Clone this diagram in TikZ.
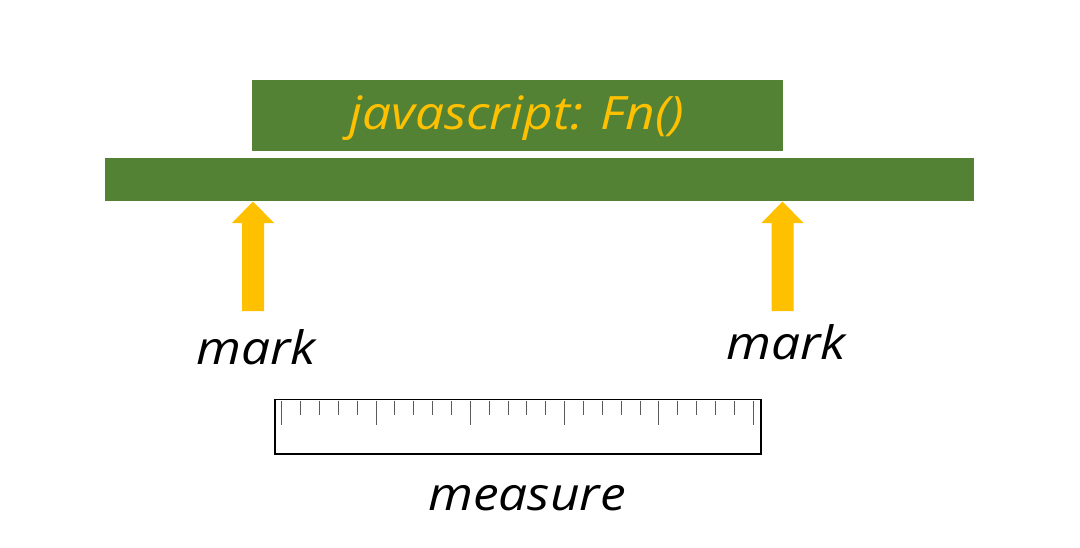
\documentclass[tikz,border=0pt]{standalone}
\usepackage{fontspec}
\newfontfamily\hand{Open Sans}[FakeStretch=1.12]
\definecolor{barGreen}{RGB}{84,130,53}
\definecolor{arrowGold}{RGB}{255,192,0}
\definecolor{tickGray}{RGB}{90,90,90}
\begin{document}
\begin{tikzpicture}[x=1pt,y=-1pt,
  greenbox/.style={fill=barGreen, draw=none, inner sep=0pt},
  handtext/.style={font=\hand\itshape\fontsize{46}{50}\selectfont, inner sep=0pt},
  upblock/.style={fill=arrowGold, draw=none},
  rulerbox/.style={draw=black, line width=1.8pt, fill=white},
  tick/.style={draw=tickGray, line width=1pt}]
\useasboundingbox[fill=white] (0,0) rectangle (1080,547);
% top box and bar
\node[greenbox, minimum width=531pt, minimum height=71pt] (fnbox) at (517.5,115.5) {};
\node[handtext, text=arrowGold, font=\hand\itshape\fontsize{46}{50}\selectfont] (fntext) at (517,118) {javascript: Fn()};
\node[greenbox, minimum width=869pt, minimum height=43pt] (bar) at (539.5,179.5) {};
% arrow coordinates
\coordinate (tipL) at (253,201.5);
\coordinate (tipR) at (782.5,201.5);
\foreach \t in {tipL,tipR}{
  \fill[upblock] (\t) -- ++(21,21.5) -- ++(-10,0) -- ++(0,88) -- ++(-22,0) -- ++(0,-88) -- ++(-10,0) -- cycle;
}
% labels
\node[handtext] (markL) at (256,347) {mark};
\node[handtext] (markR) at (786,342) {mark};
% ruler
\node[rulerbox, minimum width=486pt, minimum height=54.5pt, inner sep=0pt] (ruler) at (518,426.75) {};
\foreach \i in {0,...,25}{
  \pgfmathsetmacro{\xx}{281.7+\i*18.86}
  \pgfmathparse{mod(\i,5)==0 ? 425 : 415}
  \edef\yy{\pgfmathresult}
  \draw[tick] (\xx,400.5) -- (\xx,\yy);
}
\node[handtext] (measure) at (527,498) {measure};
\end{tikzpicture}
\end{document}
